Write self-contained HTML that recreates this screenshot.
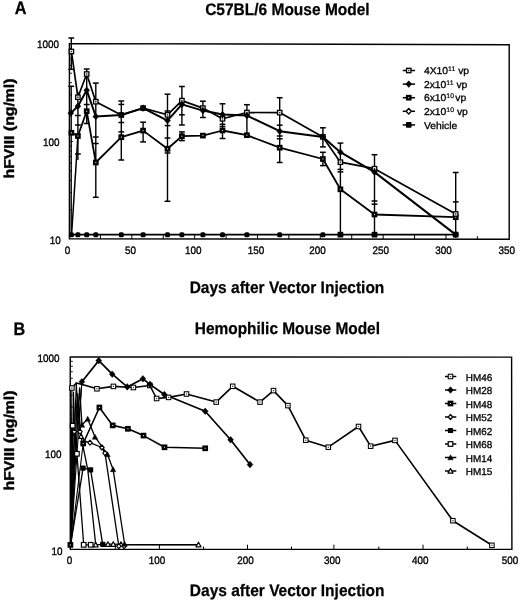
<!DOCTYPE html>
<html lang="en">
<head>
<meta charset="utf-8">
<title>hFVIII expression after vector injection</title>
<style>
html,body{margin:0;padding:0;background:#fff;}
body{width:520px;height:601px;overflow:hidden;font-family:"Liberation Sans", Arial, Helvetica, sans-serif;}
svg{display:block;}
</style>
</head>
<body>
<svg width="520" height="601" viewBox="0 0 520 601" font-family='"Liberation Sans", Arial, Helvetica, sans-serif' fill="#000" text-rendering="geometricPrecision">
<rect width="520" height="601" fill="#fff"/>
<text transform="translate(14.7 13.8) scale(0.9 1)" font-size="18" font-weight="bold" stroke="#000" stroke-width="0.3">A</text>
<text transform="translate(13.6 334.9) scale(0.9 1)" font-size="18" font-weight="bold" stroke="#000" stroke-width="0.3">B</text>
<text transform="translate(287.40 14.50) scale(0.934 1)" font-size="16.6" font-weight="bold" text-anchor="middle" stroke="#000" stroke-width="0.25">C57BL/6 Mouse Model</text>
<text transform="translate(287.40 334.10) scale(0.9293300000000001 1)" font-size="16.6" font-weight="bold" text-anchor="middle" stroke="#000" stroke-width="0.25">Hemophilic Mouse Model</text>
<text transform="translate(287.00 292.50) scale(0.934 1)" font-size="16.6" font-weight="bold" text-anchor="middle" stroke="#000" stroke-width="0.25">Days after Vector Injection</text>
<text transform="translate(287.20 595.70) scale(0.934 1)" font-size="16.6" font-weight="bold" text-anchor="middle" stroke="#000" stroke-width="0.25">Days after Vector Injection</text>
<text transform="translate(13.8 128.5) rotate(-90) scale(1.105 1)" font-size="14.3" font-weight="bold" text-anchor="middle" stroke="#000" stroke-width="0.4">hFVIII (ng/ml)</text>
<text transform="translate(13.8 440.5) rotate(-90) scale(1.105 1)" font-size="14.3" font-weight="bold" text-anchor="middle" stroke="#000" stroke-width="0.4">hFVIII (ng/ml)</text>
<path d="M69.4 43.6L509.2 44.7L509.2 239.2L69.4 238.8Z" fill="none" stroke="#000" stroke-width="1.4"/>
<line x1="69.40" y1="209.79" x2="72.00" y2="209.79" stroke="#000" stroke-width="0.9"/>
<line x1="69.40" y1="192.59" x2="72.00" y2="192.59" stroke="#000" stroke-width="0.9"/>
<line x1="69.40" y1="180.38" x2="72.00" y2="180.38" stroke="#000" stroke-width="0.9"/>
<line x1="69.40" y1="170.91" x2="72.00" y2="170.91" stroke="#000" stroke-width="0.9"/>
<line x1="69.40" y1="163.17" x2="72.00" y2="163.17" stroke="#000" stroke-width="0.9"/>
<line x1="69.40" y1="156.63" x2="72.00" y2="156.63" stroke="#000" stroke-width="0.9"/>
<line x1="69.40" y1="150.97" x2="72.00" y2="150.97" stroke="#000" stroke-width="0.9"/>
<line x1="69.40" y1="145.97" x2="72.00" y2="145.97" stroke="#000" stroke-width="0.9"/>
<line x1="69.40" y1="112.09" x2="72.00" y2="112.09" stroke="#000" stroke-width="0.9"/>
<line x1="69.40" y1="94.89" x2="72.00" y2="94.89" stroke="#000" stroke-width="0.9"/>
<line x1="69.40" y1="82.68" x2="72.00" y2="82.68" stroke="#000" stroke-width="0.9"/>
<line x1="69.40" y1="73.21" x2="72.00" y2="73.21" stroke="#000" stroke-width="0.9"/>
<line x1="69.40" y1="65.47" x2="72.00" y2="65.47" stroke="#000" stroke-width="0.9"/>
<line x1="69.40" y1="58.93" x2="72.00" y2="58.93" stroke="#000" stroke-width="0.9"/>
<line x1="69.40" y1="53.27" x2="72.00" y2="53.27" stroke="#000" stroke-width="0.9"/>
<line x1="69.40" y1="48.27" x2="72.00" y2="48.27" stroke="#000" stroke-width="0.9"/>
<line x1="69.40" y1="141.50" x2="72.90" y2="141.50" stroke="#000" stroke-width="0.9"/>
<line x1="100.41" y1="239.20" x2="100.41" y2="235.00" stroke="#000" stroke-width="1.0"/>
<line x1="131.83" y1="239.20" x2="131.83" y2="235.00" stroke="#000" stroke-width="1.0"/>
<line x1="163.24" y1="239.20" x2="163.24" y2="235.00" stroke="#000" stroke-width="1.0"/>
<line x1="194.66" y1="239.20" x2="194.66" y2="235.00" stroke="#000" stroke-width="1.0"/>
<line x1="226.07" y1="239.20" x2="226.07" y2="235.00" stroke="#000" stroke-width="1.0"/>
<line x1="257.49" y1="239.20" x2="257.49" y2="235.00" stroke="#000" stroke-width="1.0"/>
<line x1="288.90" y1="239.20" x2="288.90" y2="235.00" stroke="#000" stroke-width="1.0"/>
<line x1="320.31" y1="239.20" x2="320.31" y2="235.00" stroke="#000" stroke-width="1.0"/>
<line x1="351.73" y1="239.20" x2="351.73" y2="235.00" stroke="#000" stroke-width="1.0"/>
<line x1="383.14" y1="239.20" x2="383.14" y2="235.00" stroke="#000" stroke-width="1.0"/>
<line x1="414.56" y1="239.20" x2="414.56" y2="235.00" stroke="#000" stroke-width="1.0"/>
<line x1="445.97" y1="239.20" x2="445.97" y2="235.00" stroke="#000" stroke-width="1.0"/>
<line x1="477.39" y1="239.20" x2="477.39" y2="236.20" stroke="#000" stroke-width="1.0"/>
<text transform="translate(67.60 254.20) scale(0.915 1)" font-size="10.8" font-weight="normal" text-anchor="middle" stroke="#000" stroke-width="0.35">0</text>
<text transform="translate(130.43 254.20) scale(0.915 1)" font-size="10.8" font-weight="normal" text-anchor="middle" stroke="#000" stroke-width="0.35">50</text>
<text transform="translate(193.26 254.20) scale(0.915 1)" font-size="10.8" font-weight="normal" text-anchor="middle" stroke="#000" stroke-width="0.35">100</text>
<text transform="translate(256.09 254.20) scale(0.915 1)" font-size="10.8" font-weight="normal" text-anchor="middle" stroke="#000" stroke-width="0.35">150</text>
<text transform="translate(317.41 254.20) scale(0.915 1)" font-size="10.8" font-weight="normal" text-anchor="middle" stroke="#000" stroke-width="0.35">200</text>
<text transform="translate(380.74 254.20) scale(0.915 1)" font-size="10.8" font-weight="normal" text-anchor="middle" stroke="#000" stroke-width="0.35">250</text>
<text transform="translate(443.57 254.20) scale(0.915 1)" font-size="10.8" font-weight="normal" text-anchor="middle" stroke="#000" stroke-width="0.35">300</text>
<text transform="translate(506.70 254.20) scale(0.915 1)" font-size="10.8" font-weight="normal" text-anchor="middle" stroke="#000" stroke-width="0.35">350</text>
<text transform="translate(60.70 243.90) scale(0.915 1)" font-size="10.8" font-weight="normal" text-anchor="end" stroke="#000" stroke-width="0.35">10</text>
<text transform="translate(59.40 145.60) scale(0.915 1)" font-size="10.8" font-weight="normal" text-anchor="end" stroke="#000" stroke-width="0.35">100</text>
<text transform="translate(59.00 47.90) scale(0.915 1)" font-size="10.8" font-weight="normal" text-anchor="end" stroke="#000" stroke-width="0.35">1000</text>
<line x1="71.30" y1="38.00" x2="71.30" y2="69.30" stroke="#000" stroke-width="1.4"/><line x1="68.40" y1="38.00" x2="74.20" y2="38.00" stroke="#000" stroke-width="1.5"/><line x1="68.40" y1="69.30" x2="74.20" y2="69.30" stroke="#000" stroke-width="1.5"/>
<line x1="71.20" y1="86.30" x2="71.20" y2="234.70" stroke="#000" stroke-width="1.4"/><line x1="68.30" y1="86.30" x2="74.10" y2="86.30" stroke="#000" stroke-width="1.5"/>
<line x1="77.90" y1="92.00" x2="77.90" y2="160.00" stroke="#000" stroke-width="1.4"/><line x1="75.00" y1="115.50" x2="80.80" y2="115.50" stroke="#000" stroke-width="1.5"/><line x1="75.00" y1="125.00" x2="80.80" y2="125.00" stroke="#000" stroke-width="1.5"/><line x1="75.00" y1="154.00" x2="80.80" y2="154.00" stroke="#000" stroke-width="1.5"/>
<line x1="86.70" y1="69.00" x2="86.70" y2="124.00" stroke="#000" stroke-width="1.4"/><line x1="83.80" y1="69.00" x2="89.60" y2="69.00" stroke="#000" stroke-width="1.5"/><line x1="83.80" y1="104.50" x2="89.60" y2="104.50" stroke="#000" stroke-width="1.5"/><line x1="83.80" y1="123.50" x2="89.60" y2="123.50" stroke="#000" stroke-width="1.5"/>
<line x1="95.80" y1="83.10" x2="95.80" y2="197.30" stroke="#000" stroke-width="1.4"/><line x1="92.90" y1="83.10" x2="98.70" y2="83.10" stroke="#000" stroke-width="1.5"/><line x1="92.90" y1="137.00" x2="98.70" y2="137.00" stroke="#000" stroke-width="1.5"/><line x1="92.90" y1="143.50" x2="98.70" y2="143.50" stroke="#000" stroke-width="1.5"/><line x1="92.90" y1="197.30" x2="98.70" y2="197.30" stroke="#000" stroke-width="1.5"/>
<line x1="121.30" y1="101.00" x2="121.30" y2="160.00" stroke="#000" stroke-width="1.4"/><line x1="118.40" y1="101.00" x2="124.20" y2="101.00" stroke="#000" stroke-width="1.5"/><line x1="118.40" y1="104.40" x2="124.20" y2="104.40" stroke="#000" stroke-width="1.5"/><line x1="118.40" y1="122.50" x2="124.20" y2="122.50" stroke="#000" stroke-width="1.5"/><line x1="118.40" y1="131.90" x2="124.20" y2="131.90" stroke="#000" stroke-width="1.5"/><line x1="118.40" y1="160.00" x2="124.20" y2="160.00" stroke="#000" stroke-width="1.5"/>
<line x1="143.10" y1="122.20" x2="143.10" y2="141.90" stroke="#000" stroke-width="1.4"/><line x1="140.20" y1="122.20" x2="146.00" y2="122.20" stroke="#000" stroke-width="1.5"/><line x1="140.20" y1="141.90" x2="146.00" y2="141.90" stroke="#000" stroke-width="1.5"/>
<line x1="167.50" y1="94.20" x2="167.50" y2="201.30" stroke="#000" stroke-width="1.4"/><line x1="164.60" y1="94.20" x2="170.40" y2="94.20" stroke="#000" stroke-width="1.5"/><line x1="164.60" y1="111.00" x2="170.40" y2="111.00" stroke="#000" stroke-width="1.5"/><line x1="164.60" y1="125.60" x2="170.40" y2="125.60" stroke="#000" stroke-width="1.5"/><line x1="164.60" y1="138.00" x2="170.40" y2="138.00" stroke="#000" stroke-width="1.5"/><line x1="164.60" y1="153.00" x2="170.40" y2="153.00" stroke="#000" stroke-width="1.5"/><line x1="164.60" y1="201.30" x2="170.40" y2="201.30" stroke="#000" stroke-width="1.5"/>
<line x1="181.90" y1="86.50" x2="181.90" y2="125.00" stroke="#000" stroke-width="1.4"/><line x1="179.00" y1="86.50" x2="184.80" y2="86.50" stroke="#000" stroke-width="1.5"/><line x1="179.00" y1="114.80" x2="184.80" y2="114.80" stroke="#000" stroke-width="1.5"/><line x1="179.00" y1="125.00" x2="184.80" y2="125.00" stroke="#000" stroke-width="1.5"/>
<line x1="181.90" y1="131.90" x2="181.90" y2="140.60" stroke="#000" stroke-width="1.4"/><line x1="179.00" y1="131.90" x2="184.80" y2="131.90" stroke="#000" stroke-width="1.5"/><line x1="179.00" y1="140.60" x2="184.80" y2="140.60" stroke="#000" stroke-width="1.5"/>
<line x1="202.90" y1="101.20" x2="202.90" y2="117.50" stroke="#000" stroke-width="1.4"/><line x1="200.00" y1="101.20" x2="205.80" y2="101.20" stroke="#000" stroke-width="1.5"/><line x1="200.00" y1="117.50" x2="205.80" y2="117.50" stroke="#000" stroke-width="1.5"/>
<line x1="222.50" y1="103.80" x2="222.50" y2="138.50" stroke="#000" stroke-width="1.4"/><line x1="219.60" y1="103.80" x2="225.40" y2="103.80" stroke="#000" stroke-width="1.5"/><line x1="219.60" y1="124.30" x2="225.40" y2="124.30" stroke="#000" stroke-width="1.5"/><line x1="219.60" y1="126.50" x2="225.40" y2="126.50" stroke="#000" stroke-width="1.5"/><line x1="219.60" y1="138.50" x2="225.40" y2="138.50" stroke="#000" stroke-width="1.5"/>
<line x1="246.90" y1="104.70" x2="246.90" y2="135.20" stroke="#000" stroke-width="1.4"/><line x1="244.00" y1="104.70" x2="249.80" y2="104.70" stroke="#000" stroke-width="1.5"/>
<line x1="279.70" y1="97.70" x2="279.70" y2="162.50" stroke="#000" stroke-width="1.4"/><line x1="276.80" y1="97.70" x2="282.60" y2="97.70" stroke="#000" stroke-width="1.5"/><line x1="276.80" y1="125.20" x2="282.60" y2="125.20" stroke="#000" stroke-width="1.5"/><line x1="276.80" y1="136.00" x2="282.60" y2="136.00" stroke="#000" stroke-width="1.5"/><line x1="276.80" y1="138.80" x2="282.60" y2="138.80" stroke="#000" stroke-width="1.5"/><line x1="276.80" y1="162.50" x2="282.60" y2="162.50" stroke="#000" stroke-width="1.5"/>
<line x1="322.90" y1="127.80" x2="322.90" y2="146.90" stroke="#000" stroke-width="1.4"/><line x1="320.00" y1="127.80" x2="325.80" y2="127.80" stroke="#000" stroke-width="1.5"/><line x1="320.00" y1="146.90" x2="325.80" y2="146.90" stroke="#000" stroke-width="1.5"/>
<line x1="322.90" y1="152.30" x2="322.90" y2="165.60" stroke="#000" stroke-width="1.4"/><line x1="320.00" y1="152.30" x2="325.80" y2="152.30" stroke="#000" stroke-width="1.5"/><line x1="320.00" y1="165.60" x2="325.80" y2="165.60" stroke="#000" stroke-width="1.5"/>
<line x1="340.40" y1="143.10" x2="340.40" y2="234.70" stroke="#000" stroke-width="1.4"/><line x1="337.50" y1="143.10" x2="343.30" y2="143.10" stroke="#000" stroke-width="1.5"/><line x1="337.50" y1="169.40" x2="343.30" y2="169.40" stroke="#000" stroke-width="1.5"/><line x1="337.50" y1="171.90" x2="343.30" y2="171.90" stroke="#000" stroke-width="1.5"/>
<line x1="374.50" y1="154.70" x2="374.50" y2="234.70" stroke="#000" stroke-width="1.4"/><line x1="371.60" y1="154.70" x2="377.40" y2="154.70" stroke="#000" stroke-width="1.5"/><line x1="371.60" y1="201.00" x2="377.40" y2="201.00" stroke="#000" stroke-width="1.5"/><line x1="371.60" y1="204.20" x2="377.40" y2="204.20" stroke="#000" stroke-width="1.5"/>
<line x1="455.70" y1="172.50" x2="455.70" y2="234.70" stroke="#000" stroke-width="1.4"/><line x1="452.80" y1="172.50" x2="458.60" y2="172.50" stroke="#000" stroke-width="1.5"/><line x1="452.80" y1="201.90" x2="458.60" y2="201.90" stroke="#000" stroke-width="1.5"/>
<polyline points="71.60,234.70 77.90,136.00" fill="none" stroke="#000" stroke-width="1.5" stroke-linejoin="round" />
<polyline points="71.40,234.70 77.90,234.70 86.70,234.70 95.80,234.70 121.30,234.70 143.10,234.70 167.50,234.70 181.90,234.70 202.90,234.70 222.50,234.70 246.90,234.70 279.70,234.70 322.90,234.70 340.40,234.70 374.50,234.70 455.70,234.70" fill="none" stroke="#000" stroke-width="1.7" stroke-linejoin="round" />
<polyline points="71.40,132.80 77.90,136.00 86.70,111.20 95.80,162.50 121.30,137.20 143.10,130.60 167.50,148.80 181.90,136.20 202.90,135.60 222.50,130.50 246.90,135.20 279.70,147.70 322.90,159.00 340.40,189.30 374.50,214.50 455.70,217.20" fill="none" stroke="#000" stroke-width="1.8" stroke-linejoin="round" />
<polyline points="71.40,51.50 77.90,97.20 86.70,74.00 95.80,101.70 121.30,115.00 143.10,108.10 167.50,114.80 181.90,100.60 202.90,108.10 222.50,118.80 246.90,112.50 279.70,112.60 322.90,136.90 340.40,162.20 374.50,168.70 455.70,214.00" fill="none" stroke="#000" stroke-width="1.7" stroke-linejoin="round" />
<polyline points="70.80,113.10 77.90,106.20 86.70,90.20 95.80,116.50 121.30,115.00 143.10,108.10 167.50,120.60 181.90,104.40 202.90,110.60 222.50,114.60 246.90,115.60 279.70,131.20 322.90,136.90 340.40,152.20 374.50,172.10 455.70,234.60" fill="none" stroke="#000" stroke-width="2.0" stroke-linejoin="round" />
<rect x="68.90" y="232.20" width="5" height="5" rx="1.5" fill="#000"/>
<rect x="75.40" y="232.20" width="5" height="5" rx="1.5" fill="#000"/>
<rect x="84.20" y="232.20" width="5" height="5" rx="1.5" fill="#000"/>
<rect x="93.30" y="232.20" width="5" height="5" rx="1.5" fill="#000"/>
<rect x="118.80" y="232.20" width="5" height="5" rx="1.5" fill="#000"/>
<rect x="140.60" y="232.20" width="5" height="5" rx="1.5" fill="#000"/>
<rect x="165.00" y="232.20" width="5" height="5" rx="1.5" fill="#000"/>
<rect x="179.40" y="232.20" width="5" height="5" rx="1.5" fill="#000"/>
<rect x="200.40" y="232.20" width="5" height="5" rx="1.5" fill="#000"/>
<rect x="220.00" y="232.20" width="5" height="5" rx="1.5" fill="#000"/>
<rect x="244.40" y="232.20" width="5" height="5" rx="1.5" fill="#000"/>
<rect x="277.20" y="232.20" width="5" height="5" rx="1.5" fill="#000"/>
<rect x="320.40" y="232.20" width="5" height="5" rx="1.5" fill="#000"/>
<rect x="337.50" y="231.80" width="5.8" height="5.8" rx="0.9" fill="#000"/>
<rect x="371.60" y="231.80" width="5.8" height="5.8" rx="0.9" fill="#000"/>
<rect x="452.80" y="231.80" width="5.8" height="5.8" rx="0.9" fill="#000"/>
<rect x="69.70" y="131.10" width="3.4" height="3.4" fill="#ddd" stroke="#000" stroke-width="2.3"/>
<rect x="76.20" y="134.30" width="3.4" height="3.4" fill="#ddd" stroke="#000" stroke-width="2.3"/>
<rect x="85.00" y="109.50" width="3.4" height="3.4" fill="#ddd" stroke="#000" stroke-width="2.3"/>
<rect x="94.10" y="160.80" width="3.4" height="3.4" fill="#ddd" stroke="#000" stroke-width="2.3"/>
<rect x="119.60" y="135.50" width="3.4" height="3.4" fill="#ddd" stroke="#000" stroke-width="2.3"/>
<rect x="141.40" y="128.90" width="3.4" height="3.4" fill="#ddd" stroke="#000" stroke-width="2.3"/>
<rect x="165.80" y="147.10" width="3.4" height="3.4" fill="#ddd" stroke="#000" stroke-width="2.3"/>
<rect x="180.20" y="134.50" width="3.4" height="3.4" fill="#ddd" stroke="#000" stroke-width="2.3"/>
<rect x="201.20" y="133.90" width="3.4" height="3.4" fill="#ddd" stroke="#000" stroke-width="2.3"/>
<rect x="220.80" y="128.80" width="3.4" height="3.4" fill="#ddd" stroke="#000" stroke-width="2.3"/>
<rect x="245.20" y="133.50" width="3.4" height="3.4" fill="#ddd" stroke="#000" stroke-width="2.3"/>
<rect x="278.00" y="146.00" width="3.4" height="3.4" fill="#ddd" stroke="#000" stroke-width="2.3"/>
<rect x="321.20" y="157.30" width="3.4" height="3.4" fill="#ddd" stroke="#000" stroke-width="2.3"/>
<rect x="338.70" y="187.60" width="3.4" height="3.4" fill="#ddd" stroke="#000" stroke-width="2.3"/>
<rect x="372.80" y="212.80" width="3.4" height="3.4" fill="#ddd" stroke="#000" stroke-width="2.3"/>
<rect x="454.00" y="215.50" width="3.4" height="3.4" fill="#ddd" stroke="#000" stroke-width="2.3"/>
<rect x="69.20" y="49.30" width="4.4" height="4.4" fill="#fff" stroke="#000" stroke-width="1.3"/><rect x="70.65" y="50.75" width="1.5" height="1.5" fill="#000" opacity="0.8"/>
<rect x="75.70" y="95.00" width="4.4" height="4.4" fill="#fff" stroke="#000" stroke-width="1.3"/><rect x="77.15" y="96.45" width="1.5" height="1.5" fill="#000" opacity="0.8"/>
<rect x="84.50" y="71.80" width="4.4" height="4.4" fill="#fff" stroke="#000" stroke-width="1.3"/><rect x="85.95" y="73.25" width="1.5" height="1.5" fill="#000" opacity="0.8"/>
<rect x="93.60" y="99.50" width="4.4" height="4.4" fill="#fff" stroke="#000" stroke-width="1.3"/><rect x="95.05" y="100.95" width="1.5" height="1.5" fill="#000" opacity="0.8"/>
<rect x="119.10" y="112.80" width="4.4" height="4.4" fill="#fff" stroke="#000" stroke-width="1.3"/><rect x="120.55" y="114.25" width="1.5" height="1.5" fill="#000" opacity="0.8"/>
<rect x="140.90" y="105.90" width="4.4" height="4.4" fill="#fff" stroke="#000" stroke-width="1.3"/><rect x="142.35" y="107.35" width="1.5" height="1.5" fill="#000" opacity="0.8"/>
<rect x="165.30" y="112.60" width="4.4" height="4.4" fill="#fff" stroke="#000" stroke-width="1.3"/><rect x="166.75" y="114.05" width="1.5" height="1.5" fill="#000" opacity="0.8"/>
<rect x="179.70" y="98.40" width="4.4" height="4.4" fill="#fff" stroke="#000" stroke-width="1.3"/><rect x="181.15" y="99.85" width="1.5" height="1.5" fill="#000" opacity="0.8"/>
<rect x="200.70" y="105.90" width="4.4" height="4.4" fill="#fff" stroke="#000" stroke-width="1.3"/><rect x="202.15" y="107.35" width="1.5" height="1.5" fill="#000" opacity="0.8"/>
<rect x="220.30" y="116.60" width="4.4" height="4.4" fill="#fff" stroke="#000" stroke-width="1.3"/><rect x="221.75" y="118.05" width="1.5" height="1.5" fill="#000" opacity="0.8"/>
<rect x="244.70" y="110.30" width="4.4" height="4.4" fill="#fff" stroke="#000" stroke-width="1.3"/><rect x="246.15" y="111.75" width="1.5" height="1.5" fill="#000" opacity="0.8"/>
<rect x="277.50" y="110.40" width="4.4" height="4.4" fill="#fff" stroke="#000" stroke-width="1.3"/><rect x="278.95" y="111.85" width="1.5" height="1.5" fill="#000" opacity="0.8"/>
<rect x="320.70" y="134.70" width="4.4" height="4.4" fill="#fff" stroke="#000" stroke-width="1.3"/><rect x="322.15" y="136.15" width="1.5" height="1.5" fill="#000" opacity="0.8"/>
<rect x="338.20" y="160.00" width="4.4" height="4.4" fill="#fff" stroke="#000" stroke-width="1.3"/><rect x="339.65" y="161.45" width="1.5" height="1.5" fill="#000" opacity="0.8"/>
<rect x="372.30" y="166.50" width="4.4" height="4.4" fill="#fff" stroke="#000" stroke-width="1.3"/><rect x="373.75" y="167.95" width="1.5" height="1.5" fill="#000" opacity="0.8"/>
<rect x="453.50" y="211.80" width="4.4" height="4.4" fill="#fff" stroke="#000" stroke-width="1.3"/><rect x="454.95" y="213.25" width="1.5" height="1.5" fill="#000" opacity="0.8"/>
<path d="M70.80 109.80L73.70 113.10L70.80 116.40L67.90 113.10Z" fill="#000" stroke="#000" stroke-width="0.5" stroke-linejoin="round"/>
<path d="M77.90 102.90L80.80 106.20L77.90 109.50L75.00 106.20Z" fill="#000" stroke="#000" stroke-width="0.5" stroke-linejoin="round"/>
<path d="M86.70 86.90L89.60 90.20L86.70 93.50L83.80 90.20Z" fill="#000" stroke="#000" stroke-width="0.5" stroke-linejoin="round"/>
<path d="M95.80 113.20L98.70 116.50L95.80 119.80L92.90 116.50Z" fill="#000" stroke="#000" stroke-width="0.5" stroke-linejoin="round"/>
<path d="M121.30 111.70L124.20 115.00L121.30 118.30L118.40 115.00Z" fill="#000" stroke="#000" stroke-width="0.5" stroke-linejoin="round"/>
<path d="M143.10 104.80L146.00 108.10L143.10 111.40L140.20 108.10Z" fill="#000" stroke="#000" stroke-width="0.5" stroke-linejoin="round"/>
<path d="M167.50 117.30L170.40 120.60L167.50 123.90L164.60 120.60Z" fill="#000" stroke="#000" stroke-width="0.5" stroke-linejoin="round"/>
<path d="M181.90 101.10L184.80 104.40L181.90 107.70L179.00 104.40Z" fill="#000" stroke="#000" stroke-width="0.5" stroke-linejoin="round"/>
<path d="M202.90 107.30L205.80 110.60L202.90 113.90L200.00 110.60Z" fill="#000" stroke="#000" stroke-width="0.5" stroke-linejoin="round"/>
<path d="M222.50 111.30L225.40 114.60L222.50 117.90L219.60 114.60Z" fill="#000" stroke="#000" stroke-width="0.5" stroke-linejoin="round"/>
<path d="M246.90 112.30L249.80 115.60L246.90 118.90L244.00 115.60Z" fill="#000" stroke="#000" stroke-width="0.5" stroke-linejoin="round"/>
<path d="M279.70 127.90L282.60 131.20L279.70 134.50L276.80 131.20Z" fill="#000" stroke="#000" stroke-width="0.5" stroke-linejoin="round"/>
<path d="M322.90 133.60L325.80 136.90L322.90 140.20L320.00 136.90Z" fill="#000" stroke="#000" stroke-width="0.5" stroke-linejoin="round"/>
<path d="M340.40 148.90L343.30 152.20L340.40 155.50L337.50 152.20Z" fill="#000" stroke="#000" stroke-width="0.5" stroke-linejoin="round"/>
<path d="M374.50 168.80L377.40 172.10L374.50 175.40L371.60 172.10Z" fill="#000" stroke="#000" stroke-width="0.5" stroke-linejoin="round"/>
<path d="M455.70 231.30L458.60 234.60L455.70 237.90L452.80 234.60Z" fill="#000" stroke="#000" stroke-width="0.5" stroke-linejoin="round"/>
<line x1="402.75" y1="70.50" x2="415.05" y2="70.50" stroke="#000" stroke-width="1.5"/>
<rect x="406.55" y="68.30" width="4.4" height="4.4" fill="#fff" stroke="#000" stroke-width="1.3"/><rect x="408.00" y="69.75" width="1.5" height="1.5" fill="#000" opacity="0.8"/>
<text transform="translate(423.90 74.20) scale(1.035 1)" font-size="10.0" font-weight="normal" text-anchor="start" stroke="#000" stroke-width="0.3">4X10<tspan dy="-3.1" font-size="6.7" stroke-width="0.2">11</tspan><tspan dy="3.1"> vp</tspan></text>
<line x1="402.75" y1="84.10" x2="415.05" y2="84.10" stroke="#000" stroke-width="1.5"/>
<path d="M408.75 80.80L411.65 84.10L408.75 87.40L405.85 84.10Z" fill="#000" stroke="#000" stroke-width="0.5" stroke-linejoin="round"/>
<text transform="translate(423.90 87.80) scale(1.035 1)" font-size="10.0" font-weight="normal" text-anchor="start" stroke="#000" stroke-width="0.3">2x10<tspan dy="-3.1" font-size="6.7" stroke-width="0.2">11</tspan><tspan dy="3.1"> vp</tspan></text>
<line x1="402.75" y1="97.70" x2="415.05" y2="97.70" stroke="#000" stroke-width="1.5"/>
<rect x="407.05" y="96.00" width="3.4" height="3.4" fill="#ddd" stroke="#000" stroke-width="2.3"/>
<text transform="translate(423.90 101.40) scale(1.035 1)" font-size="10.0" font-weight="normal" text-anchor="start" stroke="#000" stroke-width="0.3">6x10<tspan dy="-3.1" font-size="6.7" stroke-width="0.2">10</tspan><tspan dy="3.1" dx="-1.6"> vp</tspan></text>
<line x1="402.75" y1="111.30" x2="415.05" y2="111.30" stroke="#000" stroke-width="1.5"/>
<path d="M408.75 108.50L411.25 111.30L408.75 114.10L406.25 111.30Z" fill="#fff" stroke="#000" stroke-width="1.4" stroke-linejoin="round"/>
<text transform="translate(423.90 115.00) scale(1.035 1)" font-size="10.0" font-weight="normal" text-anchor="start" stroke="#000" stroke-width="0.3">2x10<tspan dy="-3.1" font-size="6.7" stroke-width="0.2">10</tspan><tspan dy="3.1"> vp</tspan></text>
<line x1="402.75" y1="124.90" x2="415.05" y2="124.90" stroke="#000" stroke-width="1.5"/>
<rect x="405.95" y="122.10" width="5.6" height="5.6" rx="0.9" fill="#000"/>
<text transform="translate(423.90 128.60) scale(1.035 1)" font-size="10.0" font-weight="normal" text-anchor="start" stroke="#000" stroke-width="0.3">Vehicle</text>
<path d="M70.25 356.9L511.6 357.1L511.9 549.4L70.3 549.4Z" fill="none" stroke="#000" stroke-width="1.4"/>
<line x1="70.20" y1="520.34" x2="72.80" y2="520.34" stroke="#000" stroke-width="0.9"/>
<line x1="70.20" y1="503.40" x2="72.80" y2="503.40" stroke="#000" stroke-width="0.9"/>
<line x1="70.20" y1="491.38" x2="72.80" y2="491.38" stroke="#000" stroke-width="0.9"/>
<line x1="70.20" y1="482.06" x2="72.80" y2="482.06" stroke="#000" stroke-width="0.9"/>
<line x1="70.20" y1="474.44" x2="72.80" y2="474.44" stroke="#000" stroke-width="0.9"/>
<line x1="70.20" y1="468.00" x2="72.80" y2="468.00" stroke="#000" stroke-width="0.9"/>
<line x1="70.20" y1="462.42" x2="72.80" y2="462.42" stroke="#000" stroke-width="0.9"/>
<line x1="70.20" y1="457.50" x2="72.80" y2="457.50" stroke="#000" stroke-width="0.9"/>
<line x1="70.20" y1="424.14" x2="72.80" y2="424.14" stroke="#000" stroke-width="0.9"/>
<line x1="70.20" y1="407.20" x2="72.80" y2="407.20" stroke="#000" stroke-width="0.9"/>
<line x1="70.20" y1="395.18" x2="72.80" y2="395.18" stroke="#000" stroke-width="0.9"/>
<line x1="70.20" y1="385.86" x2="72.80" y2="385.86" stroke="#000" stroke-width="0.9"/>
<line x1="70.20" y1="378.24" x2="72.80" y2="378.24" stroke="#000" stroke-width="0.9"/>
<line x1="70.20" y1="371.80" x2="72.80" y2="371.80" stroke="#000" stroke-width="0.9"/>
<line x1="70.20" y1="366.22" x2="72.80" y2="366.22" stroke="#000" stroke-width="0.9"/>
<line x1="70.20" y1="361.30" x2="72.80" y2="361.30" stroke="#000" stroke-width="0.9"/>
<line x1="70.20" y1="453.10" x2="73.70" y2="453.10" stroke="#000" stroke-width="0.9"/>
<line x1="115.30" y1="549.30" x2="115.30" y2="546.50" stroke="#000" stroke-width="1.0"/>
<line x1="159.40" y1="549.30" x2="159.40" y2="544.70" stroke="#000" stroke-width="1.0"/>
<line x1="203.50" y1="549.30" x2="203.50" y2="546.50" stroke="#000" stroke-width="1.0"/>
<line x1="247.50" y1="549.30" x2="247.50" y2="544.70" stroke="#000" stroke-width="1.0"/>
<line x1="291.50" y1="549.30" x2="291.50" y2="546.50" stroke="#000" stroke-width="1.0"/>
<line x1="333.90" y1="549.30" x2="333.90" y2="544.70" stroke="#000" stroke-width="1.0"/>
<line x1="378.80" y1="549.30" x2="378.80" y2="546.50" stroke="#000" stroke-width="1.0"/>
<line x1="423.00" y1="549.30" x2="423.00" y2="544.70" stroke="#000" stroke-width="1.0"/>
<line x1="467.30" y1="549.30" x2="467.30" y2="546.50" stroke="#000" stroke-width="1.0"/>
<text transform="translate(69.60 564.20) scale(0.915 1)" font-size="10.8" font-weight="normal" text-anchor="middle" stroke="#000" stroke-width="0.35">0</text>
<text transform="translate(157.06 564.20) scale(0.915 1)" font-size="10.8" font-weight="normal" text-anchor="middle" stroke="#000" stroke-width="0.35">100</text>
<text transform="translate(245.42 564.20) scale(0.915 1)" font-size="10.8" font-weight="normal" text-anchor="middle" stroke="#000" stroke-width="0.35">200</text>
<text transform="translate(332.18 564.20) scale(0.915 1)" font-size="10.8" font-weight="normal" text-anchor="middle" stroke="#000" stroke-width="0.35">300</text>
<text transform="translate(420.34 564.20) scale(0.915 1)" font-size="10.8" font-weight="normal" text-anchor="middle" stroke="#000" stroke-width="0.35">400</text>
<text transform="translate(509.90 564.20) scale(0.915 1)" font-size="10.8" font-weight="normal" text-anchor="middle" stroke="#000" stroke-width="0.35">500</text>
<text transform="translate(62.40 554.50) scale(0.915 1)" font-size="10.8" font-weight="normal" text-anchor="end" stroke="#000" stroke-width="0.35">10</text>
<text transform="translate(61.40 457.90) scale(0.915 1)" font-size="10.8" font-weight="normal" text-anchor="end" stroke="#000" stroke-width="0.35">100</text>
<text transform="translate(59.60 361.60) scale(0.915 1)" font-size="10.8" font-weight="normal" text-anchor="end" stroke="#000" stroke-width="0.35">1000</text>
<polyline points="70.60,544.80 71.90,388.00" fill="none" stroke="#000" stroke-width="1.1" stroke-linejoin="round" />
<polyline points="70.80,544.80 76.30,382.70 78.60,424.00 81.90,381.70" fill="none" stroke="#000" stroke-width="1.1" stroke-linejoin="round" />
<polyline points="70.80,544.80 81.90,381.70" fill="none" stroke="#000" stroke-width="1.1" stroke-linejoin="round" />
<polyline points="70.70,544.80 73.60,392.00 74.30,431.70" fill="none" stroke="#000" stroke-width="1.1" stroke-linejoin="round" />
<polyline points="70.80,544.80 83.20,443.50" fill="none" stroke="#000" stroke-width="1.1" stroke-linejoin="round" />
<polyline points="121.00,544.70 198.50,544.70" fill="none" stroke="#000" stroke-width="1.6" stroke-linejoin="round" />
<polyline points="70.60,544.80 77.60,394.00 81.00,436.30 87.80,469.80 95.70,544.80 107.90,544.20 113.30,544.20 121.00,544.40 198.50,544.70" fill="none" stroke="#000" stroke-width="1.3" stroke-linejoin="round" />
<polyline points="70.60,544.80 72.70,425.70 76.90,453.80 83.70,544.80 90.70,544.80" fill="none" stroke="#000" stroke-width="1.3" stroke-linejoin="round" />
<polyline points="70.60,544.80 83.10,468.10 90.60,469.80 102.70,544.30" fill="none" stroke="#000" stroke-width="1.3" stroke-linejoin="round" />
<polyline points="70.60,544.80 74.30,431.70 75.60,400.00 80.00,431.70 84.00,441.00 90.00,442.70 101.90,447.50 105.00,453.10 118.80,546.20 124.20,546.20" fill="none" stroke="#000" stroke-width="1.3" stroke-linejoin="round" />
<polyline points="70.60,544.80 79.60,388.00 82.00,425.00 87.70,418.90 95.00,436.90 107.50,454.40 113.10,469.40 124.60,544.00" fill="none" stroke="#000" stroke-width="1.3" stroke-linejoin="round" />
<polyline points="83.20,443.50 99.40,407.50 112.70,425.40 127.90,428.80 143.50,435.60 164.50,447.30 205.20,448.30" fill="none" stroke="#000" stroke-width="1.6" stroke-linejoin="round" />
<polyline points="71.90,388.00 76.30,383.00 82.30,384.50 96.90,388.80 113.40,386.40 133.40,387.50 149.80,385.50 156.60,398.50 168.60,397.40 186.50,394.00 216.20,402.10 232.70,386.30 260.00,402.10 273.50,390.60 287.90,405.60 305.80,440.20 328.30,447.20 358.50,426.50 370.60,446.20 395.00,440.40 452.90,520.70 491.90,545.30" fill="none" stroke="#000" stroke-width="1.6" stroke-linejoin="round" />
<polyline points="81.90,381.70 98.75,360.60 112.25,374.20 127.25,386.90 142.90,378.80 150.00,384.40 164.30,394.50 205.20,411.30 230.60,439.80 250.00,464.60" fill="none" stroke="#000" stroke-width="1.7" stroke-linejoin="round" />
<rect x="68.70" y="543.20" width="3.4" height="3.4" fill="#ddd" stroke="#000" stroke-width="2.3"/>
<path d="M81.00 433.80L83.50 438.43L78.50 438.43Z" fill="#fff" stroke="#000" stroke-width="1.2" stroke-linejoin="round"/>
<path d="M95.70 542.30L98.20 546.92L93.20 546.92Z" fill="#fff" stroke="#000" stroke-width="1.2" stroke-linejoin="round"/>
<path d="M107.90 541.70L110.40 546.33L105.40 546.33Z" fill="#fff" stroke="#000" stroke-width="1.2" stroke-linejoin="round"/>
<path d="M113.30 541.70L115.80 546.33L110.80 546.33Z" fill="#fff" stroke="#000" stroke-width="1.2" stroke-linejoin="round"/>
<path d="M121.00 541.90L123.50 546.52L118.50 546.52Z" fill="#fff" stroke="#000" stroke-width="1.2" stroke-linejoin="round"/>
<path d="M198.50 542.20L201.00 546.83L196.00 546.83Z" fill="#fff" stroke="#000" stroke-width="1.2" stroke-linejoin="round"/>
<rect x="70.40" y="423.40" width="4.6" height="4.6" fill="#fff" stroke="#000" stroke-width="1.2"/>
<rect x="74.60" y="451.50" width="4.6" height="4.6" fill="#fff" stroke="#000" stroke-width="1.2"/>
<rect x="81.40" y="542.50" width="4.6" height="4.6" fill="#fff" stroke="#000" stroke-width="1.2"/>
<rect x="88.40" y="542.50" width="4.6" height="4.6" fill="#fff" stroke="#000" stroke-width="1.2"/>
<rect x="80.50" y="465.50" width="5.2" height="5.2" rx="0.9" fill="#000"/>
<rect x="88.00" y="467.20" width="5.2" height="5.2" rx="0.9" fill="#000"/>
<rect x="100.10" y="541.70" width="5.2" height="5.2" rx="0.9" fill="#000"/>
<path d="M74.30 429.20L76.50 431.70L74.30 434.20L72.10 431.70Z" fill="#fff" stroke="#000" stroke-width="1.2" stroke-linejoin="round"/>
<path d="M80.00 429.20L82.20 431.70L80.00 434.20L77.80 431.70Z" fill="#fff" stroke="#000" stroke-width="1.2" stroke-linejoin="round"/>
<path d="M90.00 440.20L92.20 442.70L90.00 445.20L87.80 442.70Z" fill="#fff" stroke="#000" stroke-width="1.2" stroke-linejoin="round"/>
<path d="M101.90 445.00L104.10 447.50L101.90 450.00L99.70 447.50Z" fill="#fff" stroke="#000" stroke-width="1.2" stroke-linejoin="round"/>
<path d="M105.00 450.60L107.20 453.10L105.00 455.60L102.80 453.10Z" fill="#fff" stroke="#000" stroke-width="1.2" stroke-linejoin="round"/>
<path d="M118.80 543.70L121.00 546.20L118.80 548.70L116.60 546.20Z" fill="#fff" stroke="#000" stroke-width="1.2" stroke-linejoin="round"/>
<path d="M124.20 543.70L126.40 546.20L124.20 548.70L122.00 546.20Z" fill="#fff" stroke="#000" stroke-width="1.2" stroke-linejoin="round"/>
<path d="M82.00 422.30L84.70 427.30L79.30 427.30Z" fill="#000" stroke="#000" stroke-width="0.5" stroke-linejoin="round"/>
<path d="M87.70 416.20L90.40 421.19L85.00 421.19Z" fill="#000" stroke="#000" stroke-width="0.5" stroke-linejoin="round"/>
<path d="M95.00 434.20L97.70 439.19L92.30 439.19Z" fill="#000" stroke="#000" stroke-width="0.5" stroke-linejoin="round"/>
<path d="M107.50 451.70L110.20 456.69L104.80 456.69Z" fill="#000" stroke="#000" stroke-width="0.5" stroke-linejoin="round"/>
<path d="M113.10 466.70L115.80 471.69L110.40 471.69Z" fill="#000" stroke="#000" stroke-width="0.5" stroke-linejoin="round"/>
<path d="M124.60 541.30L127.30 546.29L121.90 546.29Z" fill="#000" stroke="#000" stroke-width="0.5" stroke-linejoin="round"/>
<rect x="81.50" y="441.80" width="3.4" height="3.4" fill="#ddd" stroke="#000" stroke-width="2.3"/>
<rect x="97.70" y="405.80" width="3.4" height="3.4" fill="#ddd" stroke="#000" stroke-width="2.3"/>
<rect x="111.00" y="423.70" width="3.4" height="3.4" fill="#ddd" stroke="#000" stroke-width="2.3"/>
<rect x="126.20" y="427.10" width="3.4" height="3.4" fill="#ddd" stroke="#000" stroke-width="2.3"/>
<rect x="141.80" y="433.90" width="3.4" height="3.4" fill="#ddd" stroke="#000" stroke-width="2.3"/>
<rect x="162.80" y="445.60" width="3.4" height="3.4" fill="#ddd" stroke="#000" stroke-width="2.3"/>
<rect x="203.50" y="446.60" width="3.4" height="3.4" fill="#ddd" stroke="#000" stroke-width="2.3"/>
<rect x="69.65" y="385.75" width="4.5" height="4.5" fill="#fff" stroke="#000" stroke-width="1.05"/><rect x="71.30" y="387.40" width="1.2" height="1.2" fill="#000" opacity="0.8"/>
<rect x="94.65" y="386.55" width="4.5" height="4.5" fill="#fff" stroke="#000" stroke-width="1.05"/><rect x="96.30" y="388.20" width="1.2" height="1.2" fill="#000" opacity="0.8"/>
<rect x="111.15" y="384.15" width="4.5" height="4.5" fill="#fff" stroke="#000" stroke-width="1.05"/><rect x="112.80" y="385.80" width="1.2" height="1.2" fill="#000" opacity="0.8"/>
<rect x="131.15" y="385.25" width="4.5" height="4.5" fill="#fff" stroke="#000" stroke-width="1.05"/><rect x="132.80" y="386.90" width="1.2" height="1.2" fill="#000" opacity="0.8"/>
<rect x="147.55" y="383.25" width="4.5" height="4.5" fill="#fff" stroke="#000" stroke-width="1.05"/><rect x="149.20" y="384.90" width="1.2" height="1.2" fill="#000" opacity="0.8"/>
<rect x="154.35" y="396.25" width="4.5" height="4.5" fill="#fff" stroke="#000" stroke-width="1.05"/><rect x="156.00" y="397.90" width="1.2" height="1.2" fill="#000" opacity="0.8"/>
<rect x="166.35" y="395.15" width="4.5" height="4.5" fill="#fff" stroke="#000" stroke-width="1.05"/><rect x="168.00" y="396.80" width="1.2" height="1.2" fill="#000" opacity="0.8"/>
<rect x="184.25" y="391.75" width="4.5" height="4.5" fill="#fff" stroke="#000" stroke-width="1.05"/><rect x="185.90" y="393.40" width="1.2" height="1.2" fill="#000" opacity="0.8"/>
<rect x="213.95" y="399.85" width="4.5" height="4.5" fill="#fff" stroke="#000" stroke-width="1.05"/><rect x="215.60" y="401.50" width="1.2" height="1.2" fill="#000" opacity="0.8"/>
<rect x="230.45" y="384.05" width="4.5" height="4.5" fill="#fff" stroke="#000" stroke-width="1.05"/><rect x="232.10" y="385.70" width="1.2" height="1.2" fill="#000" opacity="0.8"/>
<rect x="257.75" y="399.85" width="4.5" height="4.5" fill="#fff" stroke="#000" stroke-width="1.05"/><rect x="259.40" y="401.50" width="1.2" height="1.2" fill="#000" opacity="0.8"/>
<rect x="271.25" y="388.35" width="4.5" height="4.5" fill="#fff" stroke="#000" stroke-width="1.05"/><rect x="272.90" y="390.00" width="1.2" height="1.2" fill="#000" opacity="0.8"/>
<rect x="285.65" y="403.35" width="4.5" height="4.5" fill="#fff" stroke="#000" stroke-width="1.05"/><rect x="287.30" y="405.00" width="1.2" height="1.2" fill="#000" opacity="0.8"/>
<rect x="303.55" y="437.95" width="4.5" height="4.5" fill="#fff" stroke="#000" stroke-width="1.05"/><rect x="305.20" y="439.60" width="1.2" height="1.2" fill="#000" opacity="0.8"/>
<rect x="326.05" y="444.95" width="4.5" height="4.5" fill="#fff" stroke="#000" stroke-width="1.05"/><rect x="327.70" y="446.60" width="1.2" height="1.2" fill="#000" opacity="0.8"/>
<rect x="356.25" y="424.25" width="4.5" height="4.5" fill="#fff" stroke="#000" stroke-width="1.05"/><rect x="357.90" y="425.90" width="1.2" height="1.2" fill="#000" opacity="0.8"/>
<rect x="368.35" y="443.95" width="4.5" height="4.5" fill="#fff" stroke="#000" stroke-width="1.05"/><rect x="370.00" y="445.60" width="1.2" height="1.2" fill="#000" opacity="0.8"/>
<rect x="392.75" y="438.15" width="4.5" height="4.5" fill="#fff" stroke="#000" stroke-width="1.05"/><rect x="394.40" y="439.80" width="1.2" height="1.2" fill="#000" opacity="0.8"/>
<rect x="450.65" y="518.45" width="4.5" height="4.5" fill="#fff" stroke="#000" stroke-width="1.05"/><rect x="452.30" y="520.10" width="1.2" height="1.2" fill="#000" opacity="0.8"/>
<rect x="489.65" y="543.05" width="4.5" height="4.5" fill="#fff" stroke="#000" stroke-width="1.05"/><rect x="491.30" y="544.70" width="1.2" height="1.2" fill="#000" opacity="0.8"/>
<path d="M81.90 378.40L84.80 381.70L81.90 385.00L79.00 381.70Z" fill="#000" stroke="#000" stroke-width="0.5" stroke-linejoin="round"/>
<path d="M98.75 357.30L101.65 360.60L98.75 363.90L95.85 360.60Z" fill="#000" stroke="#000" stroke-width="0.5" stroke-linejoin="round"/>
<path d="M112.25 370.90L115.15 374.20L112.25 377.50L109.35 374.20Z" fill="#000" stroke="#000" stroke-width="0.5" stroke-linejoin="round"/>
<path d="M127.25 383.60L130.15 386.90L127.25 390.20L124.35 386.90Z" fill="#000" stroke="#000" stroke-width="0.5" stroke-linejoin="round"/>
<path d="M142.90 375.50L145.80 378.80L142.90 382.10L140.00 378.80Z" fill="#000" stroke="#000" stroke-width="0.5" stroke-linejoin="round"/>
<path d="M150.00 381.10L152.90 384.40L150.00 387.70L147.10 384.40Z" fill="#000" stroke="#000" stroke-width="0.5" stroke-linejoin="round"/>
<path d="M164.30 391.20L167.20 394.50L164.30 397.80L161.40 394.50Z" fill="#000" stroke="#000" stroke-width="0.5" stroke-linejoin="round"/>
<path d="M205.20 408.00L208.10 411.30L205.20 414.60L202.30 411.30Z" fill="#000" stroke="#000" stroke-width="0.5" stroke-linejoin="round"/>
<path d="M230.60 436.50L233.50 439.80L230.60 443.10L227.70 439.80Z" fill="#000" stroke="#000" stroke-width="0.5" stroke-linejoin="round"/>
<path d="M250.00 461.30L252.90 464.60L250.00 467.90L247.10 464.60Z" fill="#000" stroke="#000" stroke-width="0.5" stroke-linejoin="round"/>
<line x1="445.00" y1="376.50" x2="456.30" y2="376.50" stroke="#000" stroke-width="1.5"/>
<rect x="448.25" y="374.25" width="4.5" height="4.5" fill="#fff" stroke="#000" stroke-width="1.05"/><rect x="449.90" y="375.90" width="1.2" height="1.2" fill="#000" opacity="0.8"/>
<text transform="translate(465.80 380.50) scale(0.995 1)" font-size="10.0" font-weight="normal" text-anchor="start" stroke="#000" stroke-width="0.3">HM46</text>
<line x1="445.00" y1="390.00" x2="456.30" y2="390.00" stroke="#000" stroke-width="1.5"/>
<path d="M450.50 386.70L453.40 390.00L450.50 393.30L447.60 390.00Z" fill="#000" stroke="#000" stroke-width="0.5" stroke-linejoin="round"/>
<text transform="translate(465.80 394.00) scale(0.995 1)" font-size="10.0" font-weight="normal" text-anchor="start" stroke="#000" stroke-width="0.3">HM28</text>
<line x1="445.00" y1="403.50" x2="456.30" y2="403.50" stroke="#000" stroke-width="1.5"/>
<rect x="448.80" y="401.80" width="3.4" height="3.4" fill="#ddd" stroke="#000" stroke-width="2.3"/>
<text transform="translate(465.80 407.50) scale(0.995 1)" font-size="10.0" font-weight="normal" text-anchor="start" stroke="#000" stroke-width="0.3">HM48</text>
<line x1="445.00" y1="417.00" x2="456.30" y2="417.00" stroke="#000" stroke-width="1.5"/>
<path d="M450.50 414.50L452.70 417.00L450.50 419.50L448.30 417.00Z" fill="#fff" stroke="#000" stroke-width="1.2" stroke-linejoin="round"/>
<text transform="translate(465.80 421.00) scale(0.995 1)" font-size="10.0" font-weight="normal" text-anchor="start" stroke="#000" stroke-width="0.3">HM52</text>
<line x1="445.00" y1="430.50" x2="456.30" y2="430.50" stroke="#000" stroke-width="1.5"/>
<rect x="447.90" y="427.90" width="5.2" height="5.2" rx="0.9" fill="#000"/>
<text transform="translate(465.80 434.50) scale(0.995 1)" font-size="10.0" font-weight="normal" text-anchor="start" stroke="#000" stroke-width="0.3">HM62</text>
<line x1="445.00" y1="444.00" x2="456.30" y2="444.00" stroke="#000" stroke-width="1.5"/>
<rect x="448.20" y="441.70" width="4.6" height="4.6" fill="#fff" stroke="#000" stroke-width="1.2"/>
<text transform="translate(465.80 448.00) scale(0.995 1)" font-size="10.0" font-weight="normal" text-anchor="start" stroke="#000" stroke-width="0.3">HM68</text>
<line x1="445.00" y1="457.50" x2="456.30" y2="457.50" stroke="#000" stroke-width="1.5"/>
<path d="M450.50 454.80L453.20 459.80L447.80 459.80Z" fill="#000" stroke="#000" stroke-width="0.5" stroke-linejoin="round"/>
<text transform="translate(465.80 461.50) scale(0.995 1)" font-size="10.0" font-weight="normal" text-anchor="start" stroke="#000" stroke-width="0.3">HM14</text>
<line x1="445.00" y1="471.00" x2="456.30" y2="471.00" stroke="#000" stroke-width="1.5"/>
<path d="M450.50 468.50L453.00 473.12L448.00 473.12Z" fill="#fff" stroke="#000" stroke-width="1.2" stroke-linejoin="round"/>
<text transform="translate(465.80 475.00) scale(0.995 1)" font-size="10.0" font-weight="normal" text-anchor="start" stroke="#000" stroke-width="0.3">HM15</text>
</svg>
</body>
</html>
